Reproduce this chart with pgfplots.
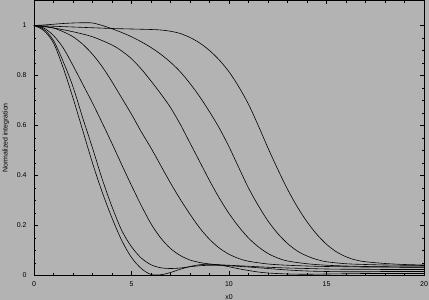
\documentclass[border=0pt]{standalone}
\usepackage{fontspec}
\setmainfont{Liberation Sans}
\usepackage{pgfplots}
\pgfplotsset{compat=1.18}
\definecolor{bg}{RGB}{179,179,179}
\begin{document}
\begin{tikzpicture}
\fill[bg] (-34bp,-24.5bp) rectangle (395bp,275.5bp);
\useasboundingbox (-34bp,-24.5bp) rectangle (395bp,275.5bp);
\begin{axis}[
  scale only axis, width=390bp, height=275bp,
  xmin=0, xmax=20, ymin=0, ymax=1.1,
  xtick={0,5,10,15,20}, ytick={0,0.2,0.4,0.6,0.8,1},
  minor x tick num=4, minor y tick num=3,
  tick align=inside, major tick length=4bp, minor tick length=2.5bp,
  axis line style={line width=0.8bp},
  every tick/.style={black, line width=0.6bp},
  tick label style={font=\fontsize{7}{8}\selectfont},
  label style={font=\fontsize{7}{8}\selectfont},
  xticklabel style={yshift=-2.5bp},
  yticklabel style={xshift=-4bp},
  /pgf/number format/assume math mode=true,
  xlabel={x0}, ylabel={Normalized integration},
  xlabel style={at={(axis description cs:0.5,-0.08)}, anchor=center},
  ylabel style={at={(axis description cs:-0.072,0.5)}, anchor=center},
  curve/.style={black, line width=0.6bp, smooth, mark=none},
  clip=true,
]
% C1
\addplot[curve] coordinates {(0,1) (0.5,0.98) (1,0.93) (1.5,0.83) (2,0.71) (2.5,0.58) (3,0.45) (3.5,0.333) (4,0.23) (4.5,0.14) (5,0.072) (5.5,0.028) (6,0.004) (6.5,0.003) (7,0.012) (7.5,0.025) (8,0.036) (8.5,0.043) (9,0.045) (9.5,0.042) (10,0.035) (10.5,0.027) (11,0.02) (11.5,0.014) (12,0.01) (13,0.006) (14,0.005) (15,0.006) (16,0.007) (17,0.008) (18,0.008) (19,0.008) (20,0.008)};
% C2
\addplot[curve] coordinates {(0,1) (0.5,0.985) (1,0.94) (1.5,0.855) (2,0.755) (2.5,0.63) (3,0.51) (3.5,0.385) (4,0.275) (4.5,0.18) (5,0.115) (5.5,0.07) (6,0.043) (6.5,0.031) (7,0.028) (7.5,0.03) (8,0.035) (8.5,0.039) (9,0.041) (9.5,0.041) (10,0.039) (11,0.034) (12,0.028) (13,0.022) (14,0.018) (15,0.016) (16,0.015) (17,0.015) (18,0.016) (19,0.016) (20,0.016)};
% C3
\addplot[curve] coordinates {(0,1) (0.5,0.99) (1,0.96) (1.5,0.91) (2,0.84) (2.5,0.765) (3,0.69) (3.5,0.61) (4,0.528) (4.5,0.443) (5,0.36) (5.5,0.28) (6,0.207) (6.5,0.15) (7,0.108) (7.5,0.08) (8,0.062) (8.5,0.052) (9,0.046) (9.5,0.043) (10,0.041) (11,0.037) (12,0.033) (13,0.03) (14,0.028) (15,0.026) (16,0.025) (17,0.025) (18,0.024) (19,0.024) (20,0.024)};
% C4
\addplot[curve] coordinates {(0,1) (0.5,0.997) (1,0.99) (1.5,0.975) (2,0.955) (2.5,0.925) (3,0.885) (3.5,0.835) (4,0.775) (4.5,0.71) (5,0.645) (5.5,0.575) (6,0.51) (6.5,0.44) (7,0.37) (7.5,0.305) (8,0.245) (8.5,0.19) (9,0.145) (9.5,0.11) (10,0.085) (10.5,0.068) (11,0.057) (12,0.046) (13,0.041) (14,0.038) (15,0.036) (16,0.035) (17,0.034) (18,0.034) (19,0.033) (20,0.033)};
% C5
\addplot[curve] coordinates {(0,1) (1,0.99) (2,0.975) (3,0.955) (4,0.922) (4.5,0.898) (5,0.867) (5.5,0.826) (6,0.778) (6.5,0.727) (7,0.672) (7.5,0.605) (8,0.53) (8.5,0.455) (9,0.38) (9.5,0.31) (10,0.248) (10.5,0.195) (11,0.15) (11.5,0.115) (12,0.088) (12.5,0.07) (13,0.058) (14,0.047) (15,0.041) (16,0.038) (17,0.036) (18,0.035) (19,0.034) (20,0.034)};
% C6
\addplot[curve] coordinates {(0,1) (0.5,1.002) (1,1.005) (1.5,1.008) (2,1.01) (2.5,1.011) (3,1.01) (3.5,1.0) (4,0.987) (4.5,0.972) (5,0.955) (5.5,0.935) (6,0.912) (6.5,0.885) (7,0.853) (7.5,0.815) (8,0.768) (8.5,0.715) (9,0.655) (9.5,0.59) (10,0.515) (10.5,0.432) (11,0.35) (11.5,0.28) (12,0.218) (12.5,0.168) (13,0.128) (13.5,0.098) (14,0.078) (14.5,0.064) (15,0.055) (16,0.047) (17,0.044) (18,0.042) (19,0.041) (20,0.04)};
% C7
\addplot[curve] coordinates {(0,1) (1,0.997) (2,0.994) (3,0.991) (4,0.988) (5,0.986) (6,0.984) (6.5,0.982) (7,0.977) (7.5,0.968) (8,0.952) (8.5,0.93) (9,0.9) (9.5,0.862) (10,0.815) (10.5,0.755) (11,0.685) (11.5,0.6) (12,0.51) (12.5,0.425) (13,0.345) (13.5,0.275) (14,0.215) (14.5,0.165) (15,0.125) (15.5,0.095) (16,0.075) (16.5,0.062) (17,0.055) (18,0.048) (19,0.044) (20,0.042)};
\end{axis}
\end{tikzpicture}
\end{document}
